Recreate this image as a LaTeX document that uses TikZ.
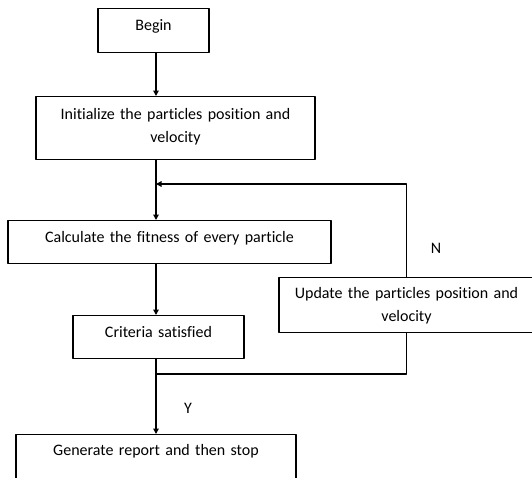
\documentclass[tikz,border=0pt]{standalone}
\usepackage{fontspec}
\setmainfont{Carlito}[Ligatures=NoCommon]
\usetikzlibrary{arrows.meta}
\begin{document}
\begin{tikzpicture}[x=1pt, y=-1pt, line join=round, >={Triangle[length=5.5pt,width=5.5pt]},
	font=\fontsize{16}{23}\selectfont,
	box/.style={draw, line width=1.3pt, anchor=north, inner xsep=2pt, inner ysep=0pt, align=center, text width=#1-4pt},
	flow/.style={line width=1.3pt}]
	\useasboundingbox (0,0) rectangle (532,477);
	\coordinate (spine) at (156,0);
	\node[box=111pt, text height=22pt, text depth=22pt] (begin) at (153.5,8) {Begin};
	\node[box=279pt, text height=23pt, text depth=40pt] (init) at (175.5,96) {Initialize the particles position and\\ velocity};
	\node[box=323pt, text height=22pt, text depth=21pt] (calc) at (169.5,220) {Calculate the fitness of every particle};
	\node[box=171pt, text height=22pt, text depth=21pt] (crit) at (158.5,315) {Criteria satisfied};
	\node[box=255pt, text height=21pt, text depth=34pt] (upd) at (406.5,277) {Update the particles position and\\ velocity};
	\node[box=280pt, text height=21pt, text depth=25pt] (gen) at (156,434) {Generate report and then stop};
	\coordinate (merge) at (156,184);
	\coordinate (split) at (156,374);
	\node (no) at (436,248) {N};
	\node (yes) at (188,408) {Y};
	\draw[flow,->] (begin.south -| spine) -- (init.north -| spine);
	\draw[flow,->] (init.south -| spine) -- (calc.north -| spine);
	\draw[flow,->] (calc.south -| spine) -- (crit.north -| spine);
	\draw[flow,->] (crit.south -| spine) -- (gen.north -| spine);
	\draw[flow] (split) -| (upd.south);
	\draw[flow,->] (upd.north) |- (merge);
\end{tikzpicture}
\end{document}
